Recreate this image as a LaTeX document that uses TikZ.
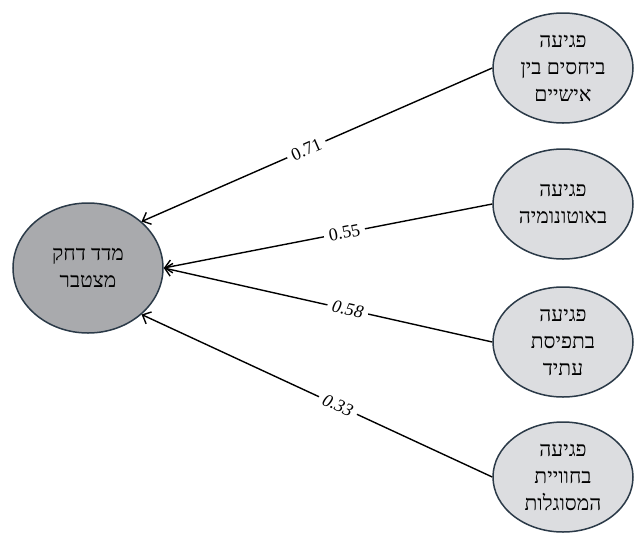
\documentclass[tikz,border=0pt]{standalone}
\usepackage{fontspec}
\setmainfont{Liberation Serif}
\newfontfamily\hebfont[Script=Hebrew]{Liberation Serif}
\TeXXeTstate=1
\usetikzlibrary{shapes.geometric, arrows.meta}

\definecolor{rimcol}{RGB}{43,58,72}
\definecolor{darkfill}{RGB}{169,170,173}
\definecolor{lightfill}{RGB}{220,221,224}

\tikzset{
    factor/.style={ellipse, draw=rimcol, line width=1.5pt, fill=lightfill, minimum width=140pt, minimum height=110pt, inner sep=0pt, align=center, font=\hebfont\fontsize{21}{27}\selectfont},
    total/.style={factor, fill=darkfill, minimum width=150pt, minimum height=130pt},
    load/.style={sloped, fill=white, inner sep=5pt, font=\fontsize{18}{20}\selectfont},
    link/.style={-{Straight Barb[length=7pt, width=13pt]}, line width=1.4pt}
}

\begin{document}
\begin{tikzpicture}[x=1pt, y=-1pt]
        \useasboundingbox (0,0) rectangle (638,547);

        % Blocks
        \node[total] (stress) at (88,268) {\beginR מדד דחק\endR\\\beginR מצטבר\endR};
        \node[factor] (rel) at (563,68) {\beginR פגיעה\endR\\\beginR ביחסים בין\endR\\\beginR אישיים\endR};
        \node[factor] (auto) at (563,204) {\beginR פגיעה\endR\\\beginR באוטונומיה\endR};
        \node[factor] (future) at (563,342) {\beginR פגיעה\endR\\\beginR בתפיסת\endR\\\beginR עתיד\endR};
        \node[factor] (eff) at (563,477) {\beginR פגיעה\endR\\\beginR בחוויית\endR\\\beginR המסוגלות\endR};

        % Arrows
        \draw[link] (rel.west) -- node[load, pos=0.53]{0.71} (stress.north east);
        \draw[link] (auto.west) -- node[load, pos=0.45]{0.55} (stress.east);
        \draw[link] (future.west) -- node[load, pos=0.44]{\itshape 0.58} (stress.east);
        \draw[link] (eff.west) -- node[load, pos=0.44]{\itshape 0.33} (stress.south east);
    \end{tikzpicture}
\end{document}
